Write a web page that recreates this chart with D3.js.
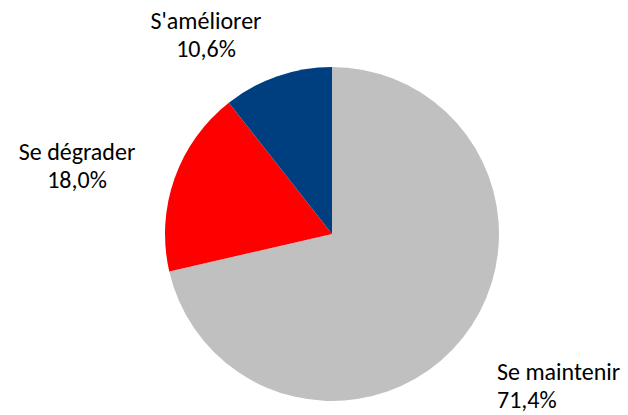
<!DOCTYPE html>
<html><head><meta charset="utf-8">
<script src="https://cdn.jsdelivr.net/npm/d3@7"></script>
<style>body{margin:0;background:#fff}svg{display:block}</style>
</head><body>
<svg id="c" width="628" height="415"></svg>
<script>
const categories = ["Se maintenir", "Se dégrader", "S'améliorer"];
const values = [71.4, 18.0, 10.6];
const valueLabels = ["71,4%", "18,0%", "10,6%"];
const colors = ["#C0C0C0", "#FF0000", "#003F7F"];

const svg = d3.select("#c");
const cx = 332, cy = 234, r = 167;
const g = svg.append("g").attr("transform", `translate(${cx},${cy})`);
const pie = d3.pie().sort(null).value(d => d)(values);
const arc = d3.arc().innerRadius(0).outerRadius(r);
g.selectAll("path").data(pie).join("path")
  .attr("d", arc).attr("fill", (d, i) => colors[i]);

// label positions (anchor, x, baseline y of first line)
const labelPos = [
  {x: 497, y: 380, anchor: "start"},
  {x: 77, y: 160, anchor: "middle"},
  {x: 206, y: 29, anchor: "middle"}
];
const font = "Carlito, Calibri, Lato, sans-serif";
categories.forEach((c, i) => {
  const p = labelPos[i];
  const t = svg.append("text").attr("x", p.x).attr("y", p.y)
    .attr("text-anchor", p.anchor).attr("font-family", font)
    .attr("font-size", 24).attr("fill", "#000");
  t.append("tspan").attr("x", p.x).text(c);
  t.append("tspan").attr("x", p.x).attr("dy", 28).text(valueLabels[i]);
});
</script>
</body></html>
